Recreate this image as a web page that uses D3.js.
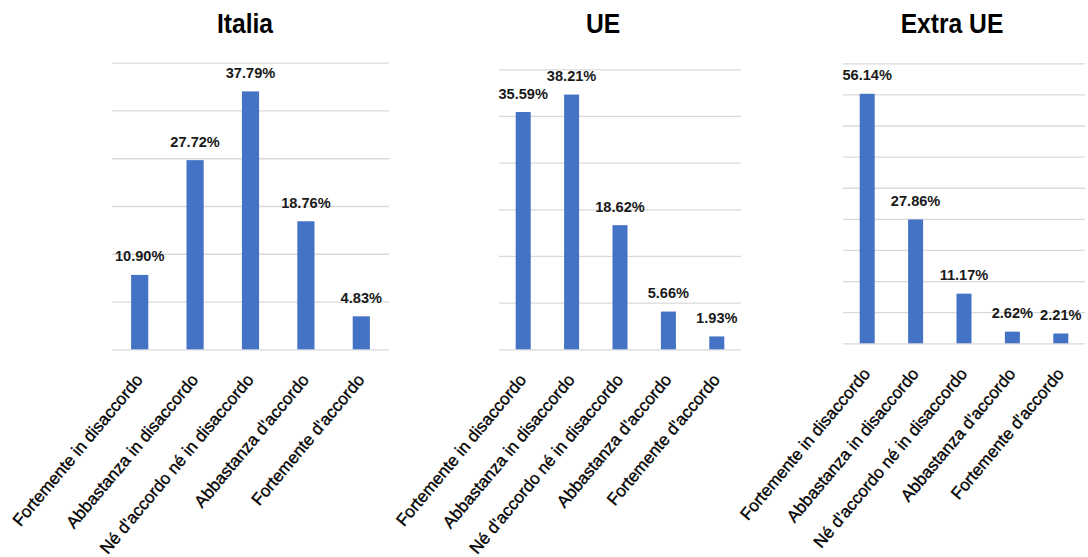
<!DOCTYPE html>
<html><head><meta charset="utf-8">
<script src="https://cdn.jsdelivr.net/npm/d3@7"></script>
<style>
body{margin:0;background:#fff;}
svg{display:block;}
.title{font-family:"Liberation Sans",Arial,sans-serif;font-weight:bold;font-size:28px;fill:#000;}
.val{font-family:"Liberation Sans",Arial,sans-serif;font-weight:bold;font-size:14.6px;fill:#1a1a1a;}
.cat{font-family:"Liberation Sans",Arial,sans-serif;font-size:17px;fill:#000;stroke:#000;stroke-width:0.35px;}
</style></head>
<body>
<svg id="chart" width="1088" height="557"></svg>
<script>
const categories = ["Fortemente in disaccordo","Abbastanza in disaccordo","Né d'accordo né in disaccordo","Abbastanza d'accordo","Fortemente d'accordo"];
const titles = ["Italia","UE","Extra UE"];
const italia = [10.90, 27.72, 37.79, 18.76, 4.83];
const ue = [35.59, 38.21, 18.62, 5.66, 1.93];
const extraUE = [56.14, 27.86, 11.17, 2.62, 2.21];
const axisMax = [42, 42, 63];
const tickStep = 7;

const seriesList = [italia, ue, extraUE];
const layout = [
  {x0:112, x1:389, yTop:62.7, yBase:349.3, tx:245},
  {x0:499, x1:741, yTop:69.3, yBase:349.3, tx:603},
  {x0:843, x1:1085, yTop:63.3, yBase:343.3, tx:952}
];

const svg = d3.select("#chart");

seriesList.forEach((vals, i) => {
  const L = layout[i];
  const g = svg.append("g");
  const x = d3.scaleBand().domain(categories).range([L.x0, L.x1]).paddingInner(0.69).paddingOuter(0.345);
  const y = d3.scaleLinear().domain([0, axisMax[i]]).range([L.yBase, L.yTop]);

  const grid = g.append("g").attr("transform", `translate(${L.x0},0)`)
    .call(d3.axisLeft(y).tickValues(d3.range(0, axisMax[i] + 0.001, tickStep)).tickSize(-(L.x1 - L.x0)).tickFormat(""));
  grid.select(".domain").remove();
  grid.selectAll(".tick line").attr("stroke", "#d9d9d9").attr("stroke-width", 1.3);

  g.selectAll("rect").data(vals).join("rect")
    .attr("x", (d, j) => x(categories[j]))
    .attr("width", x.bandwidth())
    .attr("y", d => y(d))
    .attr("height", d => L.yBase - y(d))
    .attr("fill", "#4472c4");

  g.selectAll("text.val").data(vals).join("text").attr("class", "val")
    .attr("x", (d, j) => x(categories[j]) + x.bandwidth() / 2)
    .attr("y", d => y(d) - 13.5)
    .attr("text-anchor", "middle")
    .text(d => d.toFixed(2) + "%");

  g.selectAll("text.cat").data(categories).join("text").attr("class", "cat")
    .attr("text-anchor", "end")
    .attr("transform", d => `translate(${x(d) + x.bandwidth() / 2 + 4},${L.yBase + 31}) rotate(-50)`)
    .text(d => d);

  svg.append("text").attr("class", "title")
    .attr("transform", `translate(${L.tx},33) scale(0.88,1)`)
    .attr("text-anchor", "middle")
    .text(titles[i]);
});
</script>
</body></html>
